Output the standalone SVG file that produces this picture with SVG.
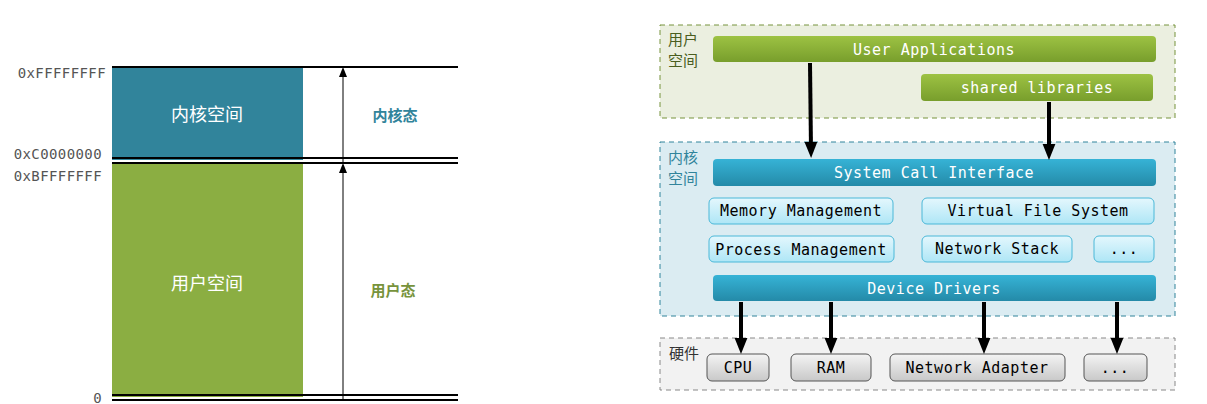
<svg xmlns="http://www.w3.org/2000/svg" width="1207" height="404" viewBox="0 0 1207 404">
<style>
.mono{font-family:"DejaVu Sans Mono","Liberation Mono",monospace;font-size:15px;letter-spacing:0.5px}
.addr{font-family:"DejaVu Sans Mono",monospace;font-size:14px;letter-spacing:0.4px;fill:#555;text-anchor:end}
.cjk{font-family:"Noto Sans CJK SC",sans-serif}
.ln{stroke:#000;stroke-width:2}
.thin{stroke:#000;stroke-width:1}
.w{fill:#fff;text-anchor:middle}
.k{fill:#000;text-anchor:middle}
.lb{fill:url(#lb);stroke:#4bb8d8;stroke-width:1}
.gr{fill:url(#gr);stroke:#555;stroke-width:1}
.arr{stroke:#000;stroke-width:4;marker-end:url(#ah)}
</style>
<defs>
<linearGradient id="gg" x1="0" y1="0" x2="0" y2="1"><stop offset="0" stop-color="#9dc243"/><stop offset="1" stop-color="#789e2c"/></linearGradient>
<linearGradient id="bg" x1="0" y1="0" x2="0" y2="1"><stop offset="0" stop-color="#36b3d6"/><stop offset="1" stop-color="#248aa8"/></linearGradient>
<linearGradient id="lb" x1="0" y1="0" x2="0" y2="1"><stop offset="0" stop-color="#e4f7fd"/><stop offset="1" stop-color="#aee6f6"/></linearGradient>
<linearGradient id="gr" x1="0" y1="0" x2="0" y2="1"><stop offset="0" stop-color="#f4f4f4"/><stop offset="1" stop-color="#c8c8c8"/></linearGradient>
<marker id="ah" markerWidth="4" markerHeight="4" refX="2" refY="2" orient="auto" markerUnits="strokeWidth"><path d="M0,0.4 L4,2 L0,3.6 z" fill="#000"/></marker>
<marker id="at" markerWidth="10" markerHeight="10" refX="5" refY="5" orient="auto" markerUnits="userSpaceOnUse"><path d="M0,1 L10,5 L0,9 z" fill="#000"/></marker>
</defs>
<g id="left">
<rect x="112" y="67" width="191" height="93" fill="#31849b"/>
<rect x="112" y="163" width="191" height="234" fill="#8bae42"/>
<line class="ln" x1="112" y1="67" x2="458" y2="67"/>
<line class="ln" x1="112" y1="158" x2="458" y2="158"/>
<line class="ln" x1="112" y1="163" x2="458" y2="163"/>
<line class="ln" x1="112" y1="395" x2="458" y2="395"/>
<line class="ln" x1="112" y1="400" x2="458" y2="400"/>
<line class="thin" x1="343" y1="163" x2="343" y2="72" marker-end="url(#at)"/>
<line class="thin" x1="343" y1="400" x2="343" y2="168" marker-end="url(#at)"/>
<text class="cjk w" x="207" y="121" font-size="18">内核空间</text>
<text class="cjk w" x="207" y="290" font-size="18">用户空间</text>
<text class="cjk" x="395" y="121" font-size="15" font-weight="bold" fill="#31849b" text-anchor="middle">内核态</text>
<text class="cjk" x="393" y="296" font-size="15" font-weight="bold" fill="#77933c" text-anchor="middle">用户态</text>
<text class="addr" x="106" y="78">0xFFFFFFFF</text>
<text class="addr" x="102" y="159">0xC0000000</text>
<text class="addr" x="102" y="181">0xBFFFFFFF</text>
<text class="addr" x="102" y="403">0</text>
</g>
<g id="user-space">
<rect x="660" y="25" width="515" height="93" fill="#ebefe0" stroke="#77933c" stroke-dasharray="5,4"/>
<text class="cjk" x="668" y="45" font-size="15" fill="#4a5e20">用户</text>
<text class="cjk" x="668" y="66" font-size="15" fill="#4a5e20">空间</text>
</g>
<g id="kernel-space">
<rect x="660" y="142" width="515" height="174" fill="#dbecf2" stroke="#31849b" stroke-dasharray="5,4"/>
<text class="cjk" x="668" y="163" font-size="15" fill="#31849b">内核</text>
<text class="cjk" x="668" y="184" font-size="15" fill="#31849b">空间</text>
</g>
<g id="hardware">
<rect x="660" y="338" width="515" height="52" fill="#f2f2f2" stroke="#888" stroke-dasharray="5,4"/>
<text class="cjk" x="669" y="359" font-size="15" fill="#333">硬件</text>
</g>
<g id="user-applications"><rect x="713" y="36" width="443" height="26" rx="4" fill="url(#gg)"/><text class="mono w" x="934" y="55">User Applications</text></g>
<g id="shared-libraries"><rect x="921" y="74" width="232" height="27" rx="4" fill="url(#gg)"/><text class="mono w" x="1037" y="93">shared libraries</text></g>
<g id="system-call-interface"><rect x="713" y="159" width="443" height="27" rx="4" fill="url(#bg)"/><text class="mono w" x="934" y="178">System Call Interface</text></g>
<g id="memory-management"><rect class="lb" x="709" y="198" width="184" height="26" rx="5"/><text class="mono k" x="801" y="216">Memory Management</text></g>
<g id="virtual-file-system"><rect class="lb" x="922" y="198" width="232" height="26" rx="5"/><text class="mono k" x="1038" y="216">Virtual File System</text></g>
<g id="process-management"><rect class="lb" x="709" y="236" width="185" height="26" rx="5"/><text class="mono k" x="801" y="255">Process Management</text></g>
<g id="network-stack"><rect class="lb" x="922" y="236" width="150" height="26" rx="5"/><text class="mono k" x="997" y="254">Network Stack</text></g>
<g id="kernel-more"><rect class="lb" x="1094" y="236" width="60" height="26" rx="5"/><text class="mono k" x="1124" y="254">...</text></g>
<g id="device-drivers"><rect x="713" y="275" width="443" height="26" rx="4" fill="url(#bg)"/><text class="mono w" x="934" y="294">Device Drivers</text></g>
<g id="cpu"><rect class="gr" x="707" y="354" width="62" height="27" rx="5"/><text class="mono k" x="738" y="373">CPU</text></g>
<g id="ram"><rect class="gr" x="791" y="354" width="80" height="27" rx="5"/><text class="mono k" x="831" y="373">RAM</text></g>
<g id="network-adapter"><rect class="gr" x="890" y="354" width="175" height="27" rx="5"/><text class="mono k" x="977" y="373">Network Adapter</text></g>
<g id="hw-more"><rect class="gr" x="1084" y="354" width="63" height="27" rx="5"/><text class="mono k" x="1115" y="373">...</text></g>
<g id="connectors">
<line class="arr" x1="810" y1="63" x2="811" y2="150"/>
<line class="arr" x1="1049" y1="102" x2="1049" y2="152"/>
<line class="arr" x1="741" y1="302" x2="741" y2="346"/>
<line class="arr" x1="831" y1="302" x2="831" y2="346"/>
<line class="arr" x1="984" y1="302" x2="984" y2="346"/>
<line class="arr" x1="1117" y1="302" x2="1117" y2="346"/>
</g>
</svg>
